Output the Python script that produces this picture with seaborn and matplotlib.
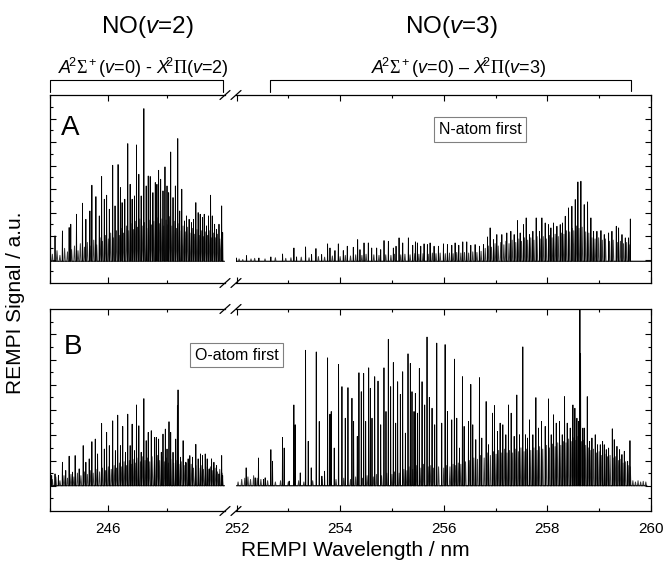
import numpy as np
import pandas as pd
import matplotlib
matplotlib.use("Agg")
import matplotlib.pyplot as plt
import seaborn as sns
from matplotlib.lines import Line2D

sns.set_theme(style="white")
plt.rcParams["font.family"] = ["Liberation Sans", "DejaVu Sans"]
plt.rcParams["mathtext.fontset"] = "custom"
plt.rcParams["mathtext.rm"] = "Liberation Sans"
plt.rcParams["mathtext.it"] = "Liberation Sans:italic"
plt.rcParams["mathtext.sf"] = "Liberation Serif"
plt.rcParams["mathtext.bf"] = "Liberation Sans:bold"
plt.rcParams["text.color"] = "black"
plt.rcParams["axes.labelcolor"] = "black"
plt.rcParams["xtick.color"] = "black"
plt.rcParams["ytick.color"] = "black"

# ---------------- data ----------------
# Panel A (N-atom first), NO(v=2) band: strong lines
A_L_wl = [245.086, 245.213, 245.328, 245.356, 245.454, 245.557, 245.615, 245.684, 245.718, 245.787,
          245.845, 245.885, 245.931, 245.971, 246.017, 246.075, 246.115, 246.167, 246.207, 246.236,
          246.282, 246.333, 246.374, 246.408, 246.448, 246.483, 246.523, 246.563, 246.609, 246.649,
          246.684, 246.718, 246.764, 246.805, 246.833, 246.862, 246.897, 246.937, 246.971, 247.006,
          247.034, 247.069, 247.109, 247.149, 247.190, 247.224, 247.259, 247.305, 247.339, 247.385,
          247.425, 247.460, 247.500, 247.540, 247.575, 247.615, 247.644, 247.684, 247.718, 247.753,
          247.782, 247.822, 247.856, 247.897, 247.943, 247.960]
A_L_int = [2.16, 2.58, 2.87, 3.15, 4.00, 4.94, 3.57, 4.28, 6.47, 5.50,
           3.86, 7.21, 5.28, 5.62, 4.43, 8.17, 4.71, 8.23, 6.27, 4.99,
           5.28, 10.01, 6.55, 5.28, 5.56, 9.90, 7.40, 5.56, 12.99, 6.41,
           7.26, 7.21, 5.84, 6.70, 6.55, 7.74, 6.98, 5.99, 8.03, 6.41,
           5.84, 9.30, 5.42, 6.41, 10.44, 4.28, 6.13, 3.43, 3.86, 3.57,
           3.29, 3.57, 4.99, 4.14, 4.00, 3.72, 4.00, 3.01, 3.86, 5.62,
           3.86, 3.15, 2.72, 3.15, 4.71, 2.44]
# Panel A, NO(v=2) band: weak lines
A_L_weak_wl = [245.04, 245.12, 245.17, 245.25, 245.30, 245.37, 245.42, 245.48, 245.52, 245.59,
               245.64, 245.70, 245.75, 245.80, 245.86, 245.90, 245.95, 246.00, 246.04, 246.09,
               246.14, 246.19, 246.22, 246.26, 246.31, 246.35, 246.39, 246.43, 246.47, 246.50,
               246.54, 246.58, 246.62, 246.66, 246.70, 246.74, 246.78, 246.82, 246.85, 246.88,
               246.92, 246.95, 246.99, 247.02, 247.05, 247.09, 247.13, 247.17, 247.21, 247.25,
               247.28, 247.32, 247.36, 247.40, 247.44, 247.48, 247.52, 247.56, 247.60, 247.63,
               247.67, 247.70, 247.74, 247.77, 247.80, 247.84, 247.87, 247.91, 247.94]
A_L_weak_int = [0.6, 0.9, 0.5, 1.1, 0.8, 1.0, 1.3, 0.9, 1.5, 1.2,
                1.6, 1.3, 1.8, 1.4, 2.0, 1.7, 2.2, 1.9, 2.4, 2.0,
                2.6, 2.2, 2.8, 2.4, 3.0, 2.6, 3.2, 2.7, 3.4, 2.9,
                3.6, 3.0, 3.3, 2.8, 3.5, 3.1, 3.4, 2.9, 3.7, 3.2,
                3.6, 3.0, 3.5, 3.1, 3.8, 3.0, 3.4, 2.8, 3.2, 2.6,
                3.0, 2.5, 2.9, 2.4, 2.8, 2.3, 2.7, 2.2, 2.6, 2.1,
                2.5, 2.2, 2.6, 2.0, 2.4, 2.0, 2.3, 1.9, 2.2]

# Panel A, NO(v=3) band: strong lines
A_R_wl = [252.000, 252.193, 252.432, 252.663, 252.889, 253.108, 253.159, 253.333, 253.449, 253.533,
          253.643, 253.758, 253.804, 253.900, 253.965, 254.061, 254.138, 254.254, 254.338, 254.383,
          254.461, 254.544, 254.609, 254.705, 254.783, 254.847, 254.931, 255.027, 255.079, 255.137,
          255.208, 255.317, 255.401, 255.453, 255.491, 255.556, 255.620, 255.684, 255.736, 255.813,
          255.897, 255.994, 256.071, 256.155, 256.219, 256.290, 256.367, 256.444, 256.522, 256.605,
          256.689, 256.766, 256.844, 256.895, 256.960, 257.024, 257.121, 257.217, 257.295, 257.359,
          257.424, 257.475, 257.539, 257.591, 257.655, 257.720, 257.784, 257.849, 257.894, 257.958,
          258.023, 258.068, 258.119, 258.184, 258.248, 258.293, 258.345, 258.409, 258.473, 258.538,
          258.589, 258.647, 258.711, 258.776, 258.840, 258.892, 258.956, 259.034, 259.098, 259.182,
          259.246, 259.330, 259.375, 259.440, 259.504, 259.568, 259.601]
A_R_int = [0.28, 0.48, 0.28, 0.37, 0.62, 1.13, 0.37, 1.22, 0.57, 1.08,
           0.57, 1.48, 1.13, 0.91, 1.48, 0.91, 1.28, 1.19, 1.84, 0.99,
           1.56, 1.56, 1.13, 1.13, 0.99, 1.76, 1.70, 1.13, 1.28, 1.99,
           1.56, 1.99, 1.36, 1.65, 1.56, 1.28, 1.48, 1.42, 1.56, 1.28,
           1.28, 1.48, 1.42, 1.36, 1.56, 1.36, 1.65, 1.65, 1.36, 1.42,
           1.28, 1.42, 2.07, 2.84, 1.84, 2.27, 2.27, 2.41, 2.55, 2.27,
           3.46, 2.41, 3.12, 3.69, 2.27, 2.55, 3.69, 2.55, 3.69, 3.26,
           3.12, 2.84, 3.26, 2.98, 3.12, 3.26, 3.83, 4.54, 4.68, 5.25,
           6.75, 6.81, 4.82, 5.05, 3.69, 2.55, 2.55, 2.61, 2.27, 2.41,
           2.55, 2.98, 2.84, 2.27, 1.99, 1.99, 3.60]
# Panel A, NO(v=3) band: weak lines
A_R_weak_wl = [252.05, 252.12, 252.28, 252.35, 252.55, 252.75, 252.95, 253.05, 253.25, 253.40,
               253.58, 253.70, 253.85, 254.00, 254.10, 254.20, 254.30, 254.42, 254.50, 254.65,
               254.75, 254.88, 254.98, 255.05, 255.17, 255.25, 255.35, 255.44, 255.52, 255.60,
               255.70, 255.78, 255.85, 255.93, 256.03, 256.11, 256.18, 256.25, 256.33, 256.40,
               256.48, 256.56, 256.64, 256.72, 256.80, 256.86, 256.92, 256.99, 257.05, 257.10,
               257.16, 257.20, 257.26, 257.32, 257.39, 257.45, 257.50, 257.56, 257.62, 257.68,
               257.74, 257.80, 257.86, 257.92, 257.98, 258.04, 258.09, 258.15, 258.21, 258.27,
               258.32, 258.37, 258.43, 258.48, 258.51, 258.56, 258.61, 258.67, 258.74, 258.80,
               258.86, 258.92, 258.99, 259.06, 259.12, 259.20, 259.27, 259.35, 259.41, 259.47,
               259.53, 259.58]
A_R_weak_int = [0.20, 0.15, 0.20, 0.25, 0.20, 0.30, 0.25, 0.30, 0.35, 0.30,
                0.40, 0.35, 0.45, 0.40, 0.50, 0.45, 0.55, 0.50, 0.60, 0.55,
                0.50, 0.55, 0.50, 0.60, 0.55, 0.60, 0.55, 0.65, 0.60, 0.65,
                0.60, 0.70, 0.65, 0.70, 0.65, 0.70, 0.65, 0.75, 0.70, 0.75,
                0.70, 0.80, 0.75, 0.85, 1.10, 1.30, 1.20, 1.50, 1.30, 1.60,
                1.40, 1.70, 1.50, 1.80, 1.60, 1.90, 1.70, 2.00, 1.80, 2.00,
                1.80, 2.10, 1.90, 2.10, 1.90, 2.20, 2.00, 2.30, 2.10, 2.40,
                2.30, 2.60, 2.50, 2.80, 2.60, 3.00, 2.80, 2.90, 2.50, 2.40,
                2.00, 1.90, 2.00, 1.80, 1.90, 1.70, 1.80, 1.60, 1.70, 1.50,
                1.60, 1.40]

# Panel B (O-atom first), NO(v=2) band: strong lines
B_L_wl = [245.029, 245.086, 245.144, 245.213, 245.270, 245.328, 245.385, 245.431, 245.500, 245.569,
          245.615, 245.672, 245.718, 245.776, 245.816, 245.885, 245.931, 245.971, 246.017, 246.075,
          246.121, 246.161, 246.207, 246.247, 246.293, 246.333, 246.374, 246.408, 246.448, 246.483,
          246.523, 246.563, 246.609, 246.649, 246.684, 246.736, 246.793, 246.822, 246.862, 246.908,
          246.937, 246.977, 247.006, 247.040, 247.069, 247.109, 247.155, 247.184, 247.195, 247.236,
          247.282, 247.328, 247.368, 247.397, 247.443, 247.500, 247.540, 247.580, 247.615, 247.661,
          247.695, 247.730, 247.770, 247.810, 247.856, 247.897, 247.943, 247.960]
B_L_int = [0.81, 0.94, 0.81, 1.86, 1.21, 2.34, 1.08, 2.39, 1.34, 3.18,
           1.86, 2.13, 3.49, 3.70, 2.52, 4.93, 2.91, 4.23, 3.18, 5.14,
           2.78, 5.59, 3.18, 4.70, 2.65, 5.67, 3.18, 4.88, 2.78, 6.40,
           4.75, 2.65, 6.90, 3.57, 4.23, 4.36, 3.83, 3.83, 3.70, 2.65,
           4.09, 4.49, 2.91, 5.07, 4.23, 2.65, 3.70, 6.33, 7.59, 2.26,
           3.57, 1.86, 2.13, 2.39, 2.26, 3.28, 2.13, 2.52, 2.39, 2.52,
           2.13, 1.34, 2.13, 1.86, 1.60, 0.94, 2.39, 0.81]
B_L_weak_wl = [245.04, 245.10, 245.17, 245.24, 245.30, 245.36, 245.41, 245.47, 245.53, 245.59,
               245.64, 245.69, 245.74, 245.79, 245.85, 245.90, 245.95, 246.00, 246.05, 246.10,
               246.14, 246.19, 246.23, 246.27, 246.31, 246.36, 246.40, 246.44, 246.47, 246.51,
               246.55, 246.59, 246.63, 246.67, 246.71, 246.75, 246.79, 246.84, 246.88, 246.92,
               246.96, 247.00, 247.03, 247.07, 247.12, 247.16, 247.21, 247.25, 247.30, 247.34,
               247.38, 247.42, 247.46, 247.50, 247.55, 247.59, 247.63, 247.67, 247.71, 247.75,
               247.79, 247.83, 247.87, 247.91, 247.95]
B_L_weak_int = [0.5, 0.7, 0.4, 0.8, 0.6, 0.9, 0.7, 1.0, 0.8, 1.1,
                0.9, 1.2, 1.0, 1.3, 1.1, 1.4, 1.2, 1.5, 1.3, 1.6,
                1.4, 1.8, 1.5, 1.9, 1.6, 2.0, 1.7, 2.1, 1.8, 2.2,
                1.9, 2.3, 2.0, 2.2, 1.9, 2.3, 2.0, 2.4, 2.0, 2.3,
                1.9, 2.2, 1.8, 2.1, 1.8, 2.0, 1.7, 1.9, 1.6, 1.8,
                1.5, 1.7, 1.4, 1.6, 1.4, 1.6, 1.3, 1.5, 1.3, 1.5,
                1.2, 1.4, 1.1, 1.3, 1.0]

# Panel B, NO(v=3) band: strong lines
B_R_wl = [252.186, 252.360, 252.424, 252.521, 252.553, 252.663, 252.695, 252.888, 252.920, 253.017,
          253.107, 253.133, 253.230, 253.333, 253.384, 253.442, 253.539, 253.597, 253.648, 253.700,
          253.758, 253.803, 253.828, 253.886, 253.970, 254.035, 254.099, 254.151, 254.228, 254.260,
          254.331, 254.363, 254.408, 254.454, 254.493, 254.551, 254.583, 254.615, 254.667, 254.731,
          254.783, 254.846, 254.885, 254.930, 254.975, 255.027, 255.072, 255.110, 255.162, 255.207,
          255.259, 255.310, 255.355, 255.387, 255.426, 255.452, 255.491, 255.529, 255.581, 255.632,
          255.677, 255.722, 255.774, 255.825, 255.865, 255.961, 256.026, 256.071, 256.154, 256.206,
          256.251, 256.303, 256.361, 256.393, 256.477, 256.522, 256.560, 256.618, 256.689, 256.734,
          256.818, 256.863, 256.940, 256.979, 257.037, 257.088, 257.140, 257.198, 257.249, 257.301,
          257.359, 257.410, 257.462, 257.526, 257.578, 257.617, 257.655, 257.720, 257.778, 257.829,
          257.887, 257.958, 258.022, 258.074, 258.119, 258.171, 258.235, 258.287, 258.332, 258.383,
          258.441, 258.493, 258.531, 258.570, 258.602, 258.628, 258.641, 258.686, 258.718, 258.770,
          258.815, 258.860, 258.924, 258.969, 259.021, 259.066, 259.098, 259.137, 259.182, 259.253,
          259.291, 259.343, 259.394, 259.439, 259.485, 259.549, 259.594]
B_R_int = [1.42, 0.63, 2.20, 0.50, 0.63, 2.86, 1.94, 3.83, 2.99, 0.37,
           6.40, 4.83, 1.02, 10.73, 3.52, 1.42, 10.60, 5.09, 0.76, 1.15,
           10.13, 5.67, 5.88, 2.99, 9.61, 7.85, 5.35, 7.77, 6.93, 5.09,
           3.91, 8.95, 7.45, 8.90, 5.09, 9.34, 7.72, 5.35, 8.64, 8.29,
           4.83, 9.34, 5.88, 11.60, 7.85, 9.76, 4.96, 8.24, 7.24, 9.03,
           4.17, 10.45, 9.69, 7.45, 5.88, 7.32, 5.75, 9.29, 8.24, 6.40,
           11.78, 7.00, 6.14, 4.83, 11.30, 4.96, 11.18, 5.88, 5.22, 10.03,
           5.35, 2.99, 8.64, 4.70, 5.09, 8.03, 4.83, 3.65, 8.56, 3.78,
           6.67, 3.25, 5.75, 6.35, 4.30, 4.96, 4.83, 4.04, 6.40, 5.75,
           3.91, 7.19, 4.04, 11.00, 4.04, 3.78, 5.22, 4.04, 6.98, 4.57,
           5.09, 4.70, 6.88, 4.04, 5.62, 4.96, 5.09, 4.04, 7.06, 4.96,
           4.57, 6.40, 6.14, 5.35, 5.09, 17.00, 10.47, 4.57, 4.57, 7.06,
           3.52, 3.78, 4.04, 3.25, 3.25, 3.52, 3.25, 2.86, 2.99, 4.51,
           3.65, 3.12, 2.86, 2.47, 2.73, 1.94, 3.57]
B_R_weak_wl = [252.03, 252.10, 252.16, 252.22, 252.27, 252.33, 252.40, 252.47, 252.60, 252.75,
               252.85, 253.00, 253.20, 253.30, 253.47, 253.65, 253.92, 254.07, 254.20, 254.30,
               254.43, 254.52, 254.64, 254.70, 254.80, 254.90, 255.00, 255.05, 255.14, 255.23,
               255.29, 255.33, 255.40, 255.47, 255.56, 255.61, 255.70, 255.75, 255.80, 255.90,
               256.00, 256.05, 256.12, 256.18, 256.23, 256.28, 256.33, 256.42, 256.50, 256.58,
               256.65, 256.71, 256.78, 256.84, 256.90, 256.96, 257.01, 257.06, 257.11, 257.17,
               257.22, 257.27, 257.33, 257.38, 257.44, 257.49, 257.55, 257.60, 257.68, 257.74,
               257.80, 257.85, 257.91, 257.98, 258.04, 258.10, 258.15, 258.20, 258.26, 258.31,
               258.36, 258.41, 258.46, 258.51, 258.55, 258.59, 258.66, 258.70, 258.74, 258.79,
               258.84, 258.89, 258.95, 259.00, 259.04, 259.11, 259.16, 259.21, 259.27, 259.31,
               259.37, 259.42, 259.46, 259.51, 259.56, 259.60, 259.65, 259.70, 259.75, 259.80,
               259.85, 259.90]
B_R_weak_int = [0.3, 0.5, 0.6, 0.7, 0.5, 0.8, 0.6, 0.5, 0.4, 0.3,
                0.4, 0.3, 0.4, 0.3, 0.4, 0.5, 0.5, 0.6, 0.5, 0.7,
                0.6, 0.8, 0.7, 0.9, 0.8, 1.0, 0.9, 1.1, 1.0, 1.3,
                1.2, 1.5, 1.3, 1.6, 1.4, 1.7, 1.5, 1.6, 1.4, 1.5,
                1.4, 1.6, 1.5, 1.7, 1.6, 1.8, 1.7, 1.9, 2.0, 2.2,
                2.1, 2.4, 2.2, 2.6, 2.4, 2.7, 2.5, 2.8, 2.6, 2.9,
                2.6, 2.8, 2.6, 2.9, 2.7, 3.0, 2.7, 2.9, 2.8, 3.0,
                2.8, 3.1, 2.9, 3.2, 3.0, 3.3, 3.1, 3.4, 3.2, 3.5,
                3.4, 3.7, 3.5, 3.8, 3.6, 3.9, 3.5, 3.6, 3.2, 3.0,
                2.8, 2.9, 2.6, 2.7, 2.4, 2.5, 2.3, 2.4, 2.2, 2.3,
                2.0, 2.1, 1.8, 1.9, 1.6, 1.5, 0.4, 0.3, 0.4, 0.3,
                0.35, 0.3]

BASE_A = 1.85      # baseline offset of trace A
BASE_B = 2.0       # baseline offset of trace B
X_TICKS_L = [246]
X_MINOR_L = [245, 247]
X_TICKS_R = [252, 254, 256, 258, 260]
X_MINOR_R = [253, 255, 257, 259]

# ---------------- helpers ----------------
W, H = 666, 569


def fx(x):
    return x / W


def fy(y):
    return 1 - y / H


def trace(wl, inten, base, start, end, hw):
    order = np.argsort(wl)
    xs, ys = [start], [base]
    for i in order:
        xs += [wl[i] - hw, wl[i], wl[i] + hw]
        ys += [base, base + inten[i], base]
    xs.append(end)
    ys.append(base)
    return pd.DataFrame({"wl": xs, "signal": ys})


def setup(ax, side, labels):
    ax.set_ylim(0, 16)
    ax.set_yticks(range(2, 16, 2))
    ax.set_yticks(range(1, 16, 2), minor=True)
    if side == "L":
        ax.set_xlim(245, 248)
        ax.set_xticks(X_TICKS_L)
        ax.set_xticks(X_MINOR_L, minor=True)
        ax.spines["right"].set_visible(False)
    else:
        ax.set_xlim(251.99, 260)
        ax.set_xticks(X_TICKS_R)
        ax.set_xticks(X_MINOR_R, minor=True)
        ax.spines["left"].set_visible(False)
    ax.tick_params(which="both", direction="in", top=True, bottom=True,
                   left=(side == "L"), right=(side == "R"),
                   labelleft=False, labelright=False, labelbottom=labels,
                   colors="black", labelcolor="black", labelsize=11, pad=8)
    ax.tick_params(which="major", length=4.5, width=0.8)
    ax.tick_params(which="minor", length=2.5, width=0.8)
    for s in ax.spines.values():
        s.set_color("black")
        s.set_linewidth(0.9)
    ax.set_xlabel("")
    ax.set_ylabel("")
    ax.set_facecolor("white")


fig = plt.figure(figsize=(6.66, 5.69), dpi=100)
axAL = fig.add_axes([fx(50), fy(283), fx(175), 188 / H])
axAR = fig.add_axes([fx(236), fy(283), fx(415), 188 / H])
axBL = fig.add_axes([fx(50), fy(511), fx(175), 202 / H])
axBR = fig.add_axes([fx(236), fy(511), fx(415), 202 / H])

panels = [
    (axAL, A_L_wl, A_L_int, A_L_weak_wl, A_L_weak_int, BASE_A, 245.0, 247.99),
    (axAR, A_R_wl, A_R_int, A_R_weak_wl, A_R_weak_int, BASE_A, 252.0, 260.0),
    (axBL, B_L_wl, B_L_int, B_L_weak_wl, B_L_weak_int, BASE_B, 245.0, 247.99),
    (axBR, B_R_wl, B_R_int, B_R_weak_wl, B_R_weak_int, BASE_B, 252.0, 259.92),
]
for ax, wl, it, wwl, wit, base, s, e in panels:
    weak = trace(wwl, wit, base, s, e, 0.012)
    strong = trace(wl, it, base, s, e, 0.005)
    sns.lineplot(data=weak, x="wl", y="signal", ax=ax, color="#3a3a3a",
                 lw=0.7, sort=False, estimator=None)
    sns.lineplot(data=strong, x="wl", y="signal", ax=ax, color="#000000",
                 lw=0.6, sort=False, estimator=None)

setup(axAL, "L", False)
setup(axAR, "R", False)
setup(axBL, "L", True)
setup(axBR, "R", True)

# break marks
for yb in [95, 283, 309, 511]:
    for xb in [225, 236]:
        fig.add_artist(Line2D([fx(xb - 5), fx(xb + 5)], [fy(yb + 4.5), fy(yb - 4.5)],
                              color="black", lw=0.9))

# brackets above the plot
fig.add_artist(Line2D([fx(50), fx(50), fx(223), fx(223)],
                      [fy(92), fy(80), fy(80), fy(92)], color="black", lw=0.8))
fig.add_artist(Line2D([fx(270), fx(270), fx(631), fx(631)],
                      [fy(92), fy(80), fy(80), fy(91)], color="black", lw=0.8))

# titles
fig.text(fx(147), fy(33), r"NO($\it{v}$=2)", fontsize=17.5, ha="center", va="baseline")
fig.text(fx(451), fy(33), r"NO($\it{v}$=3)", fontsize=17.5, ha="center", va="baseline")
fig.text(fx(143), fy(74),
         r"$\it{A}\!^2\mathsf{\Sigma}^+$($\it{v}$=0) - $\it{X}\!^2\mathsf{\Pi}$($\it{v}$=2)",
         fontsize=13, ha="center", va="baseline")
fig.text(fx(458), fy(74),
         r"$\it{A}\!^2\mathsf{\Sigma}^+$($\it{v}$=0) – $\it{X}\!^2\mathsf{\Pi}$($\it{v}$=3)",
         fontsize=13, ha="center", va="baseline")

# panel letters
fig.text(fx(61), fy(135), "A", fontsize=20, ha="left", va="baseline")
fig.text(fx(64), fy(354), "B", fontsize=20, ha="left", va="baseline")

# boxes
box = dict(boxstyle="square,pad=0.3", fc="white", ec="#808080", lw=0.8)
fig.text(fx(480), fy(129.5), "N-atom first", fontsize=11.5, ha="center", va="center", bbox=box)
fig.text(fx(236.5), fy(355), "O-atom first", fontsize=11.5, ha="center", va="center",
         bbox=box, zorder=10)

# axis labels
fig.text(fx(16), fy(303), "REMPI Signal / a.u.", fontsize=15, rotation=90,
         ha="center", va="center")
fig.text(fx(355), fy(551), "REMPI Wavelength / nm", fontsize=15, ha="center", va="center")

fig.savefig("out.png", dpi=100)
